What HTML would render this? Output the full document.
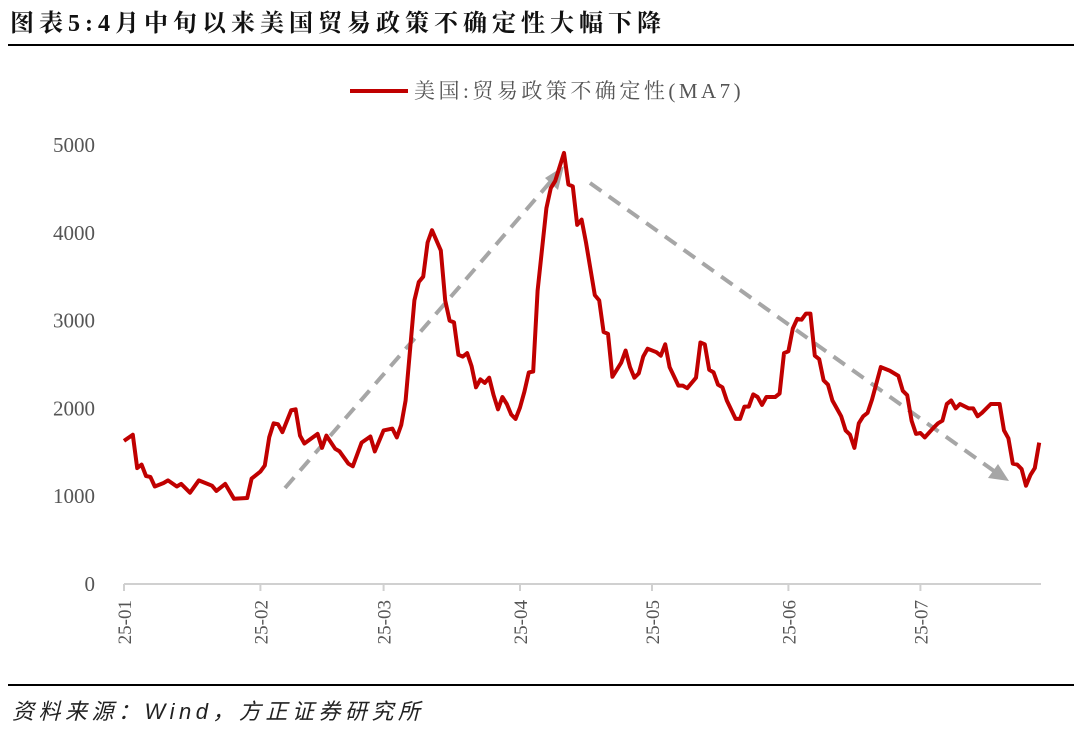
<!DOCTYPE html>
<html><head><meta charset="utf-8"><style>
body{margin:0;width:1080px;height:734px;background:#fff;overflow:hidden;font-family:"Liberation Serif","Noto Serif CJK SC",serif;}
</style></head><body>
<svg width="1080" height="734" xmlns="http://www.w3.org/2000/svg">
<text x="10" y="31" font-family="'Liberation Serif','Noto Serif CJK SC',serif" font-weight="bold" font-size="24" letter-spacing="5" fill="#111">图表5:4月中旬以来美国贸易政策不确定性大幅下降</text>
<line x1="8" y1="45" x2="1074" y2="45" stroke="#000" stroke-width="2"/>
<g>
<line x1="350" y1="91" x2="408" y2="91" stroke="#c00000" stroke-width="4"/>
<text x="414" y="98" font-size="21" letter-spacing="3.5" fill="#555">美国:贸易政策不确定性(MA7)</text>
</g>
<g id="yaxis"></g>
<g id="xaxis"></g>
<g id="arrows">
<line x1="285" y1="488" x2="552" y2="180" stroke="#a6a6a6" stroke-width="4" stroke-dasharray="14,9"/>
<polygon points="564,166 545,178 558,190" fill="#a6a6a6"/>
<line x1="590" y1="183" x2="994" y2="471" stroke="#a6a6a6" stroke-width="4" stroke-dasharray="14,9"/>
<polygon points="1009,481 988,478 998,464" fill="#a6a6a6"/>
</g>
<path id="series" fill="none" stroke="#c00000" stroke-width="4" stroke-linejoin="round"/>
<line x1="8" y1="685" x2="1074" y2="685" stroke="#000" stroke-width="2"/>
<text x="12" y="719" font-family="'Liberation Sans','Noto Sans CJK SC',sans-serif" font-style="italic" font-size="22" letter-spacing="4.5" fill="#222">资料来源：Wind，方正证券研究所</text>
</svg>
<script>
const days=[0,2,3,4,5,6,7,9,10,12,13,15,17,20,21,23,25,28,29,31,32,33,34,35,36,38,39,40,41,44,45,46,48,49,51,52,54,56,57,59,61,62,63,64,66,67,68,69,70,72,73,74,75,76,77,78,79,80,81,82,83,84,85,86,87,88,89,90,91,92,93,94,96,97,98,100,101,102,103,104,105,107,108,109,110,111,113,114,115,116,117,118,119,121,122,123,124,126,127,128,130,131,132,133,134,135,136,137,139,140,141,142,143,144,145,146,148,149,150,151,152,153,154,155,156,157,158,159,160,161,162,163,164,165,166,167,168,169,170,172,174,176,177,178,179,180,181,182,184,185,186,187,188,189,190,192,193,194,195,197,198,199,200,201,202,203,204,205,206,207,208];
const values=[1630,1700,1320,1360,1230,1220,1110,1150,1180,1110,1140,1040,1180,1120,1060,1140,970,980,1200,1280,1350,1670,1830,1820,1730,1980,1990,1690,1600,1710,1550,1690,1540,1510,1370,1340,1610,1680,1510,1750,1770,1670,1810,2090,3230,3440,3500,3890,4030,3800,3230,3000,2980,2610,2590,2630,2480,2240,2330,2290,2350,2150,1990,2130,2050,1930,1880,2010,2190,2410,2420,3340,4280,4510,4590,4910,4550,4530,4090,4150,3890,3290,3230,2870,2850,2360,2520,2660,2470,2350,2400,2590,2680,2640,2600,2730,2470,2260,2260,2230,2350,2750,2730,2440,2410,2270,2240,2090,1880,1880,2020,2020,2160,2130,2040,2130,2130,2170,2630,2650,2910,3020,3010,3080,3080,2600,2560,2320,2270,2090,2000,1910,1750,1700,1550,1830,1910,1950,2100,2470,2430,2370,2200,2150,1860,1710,1720,1670,1780,1830,1860,2050,2090,2000,2050,2000,2000,1910,1950,2050,2050,2050,1750,1660,1370,1360,1310,1120,1240,1320,1610];
const yTicks=[0,1000,2000,3000,4000,5000];
const monthStarts=[0,31,59,90,120,151,181];
const monthLabels=["25-01","25-02","25-03","25-04","25-05","25-06","25-07"];
const X0=124,DX=4.4,Y0=584,YMAX=5000,YTOP=145;
function xs(d){return X0+d*DX;}
function ys(v){return Y0-(v/YMAX)*(Y0-YTOP);}
const NS="http://www.w3.org/2000/svg";
const ya=document.getElementById('yaxis');
yTicks.forEach(t=>{
 const tx=document.createElementNS(NS,'text');
 tx.setAttribute('x',95);tx.setAttribute('y',ys(t)+7);tx.setAttribute('text-anchor','end');
 tx.setAttribute('font-size','21');tx.setAttribute('fill','#555');
 
 
 tx.textContent=t;ya.appendChild(tx);
});
const xa=document.getElementById('xaxis');
const al=document.createElementNS(NS,'line');
al.setAttribute('x1',X0);al.setAttribute('x2',1041);al.setAttribute('y1',Y0);al.setAttribute('y2',Y0);
al.setAttribute('stroke','#d0d0d0');al.setAttribute('stroke-width','2');


xa.appendChild(al);
monthStarts.forEach((d,i)=>{
 const x=xs(d);
 const tk=document.createElementNS(NS,'line');
 tk.setAttribute('x1',x);tk.setAttribute('x2',x);tk.setAttribute('y1',Y0);tk.setAttribute('y2',Y0+7);
 tk.setAttribute('stroke','#d0d0d0');tk.setAttribute('stroke-width','2');
 
 
 xa.appendChild(tk);
 const tx=document.createElementNS(NS,'text');
 tx.setAttribute('transform','translate('+(x+7)+',600) rotate(-90)');
 tx.setAttribute('text-anchor','end');tx.setAttribute('font-size','19');tx.setAttribute('fill','#555');
 
 
 tx.textContent=monthLabels[i];xa.appendChild(tx);
});
let d='';
days.forEach((dd,i)=>{d+=(i?'L':'M')+xs(dd).toFixed(1)+' '+ys(values[i]).toFixed(1);});
document.getElementById('series').setAttribute('d',d);
</script>
</body></html>
